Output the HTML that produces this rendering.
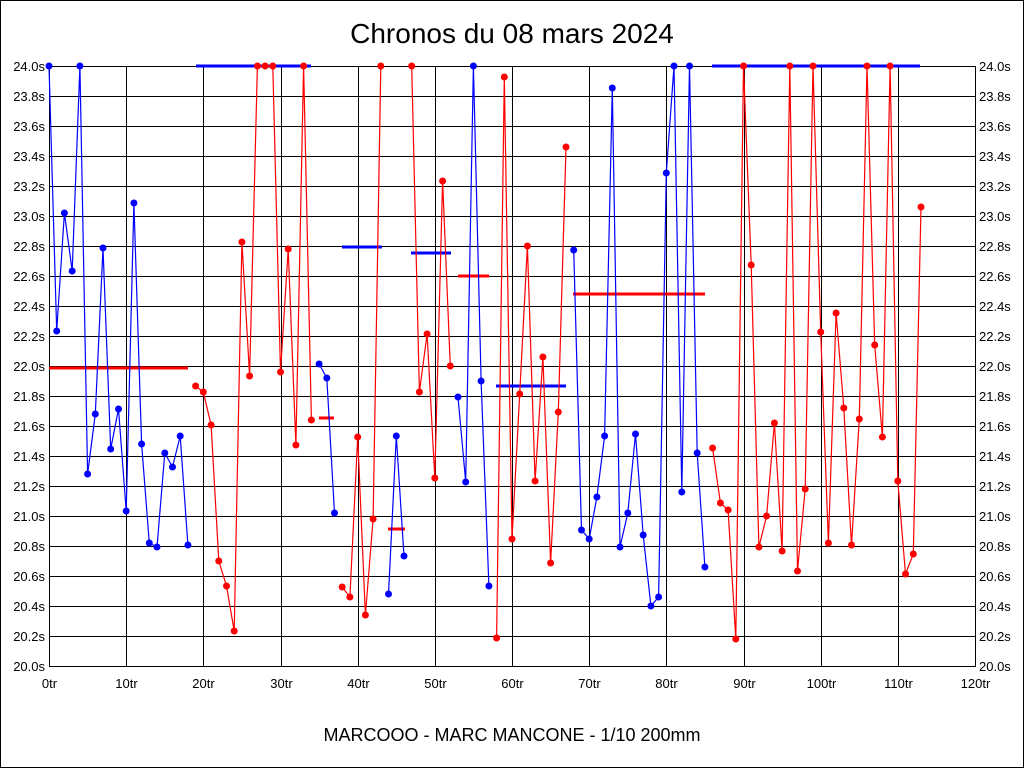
<!DOCTYPE html>
<html><head><meta charset="utf-8"><style>
html,body{margin:0;padding:0;background:#fff}
svg{display:block}
text{font-family:"Liberation Sans",sans-serif}
</style></head><body>
<svg id="s" width="1024" height="768" xmlns="http://www.w3.org/2000/svg">
<rect x="0.5" y="0.5" width="1023" height="767" fill="#fff" stroke="#000" shape-rendering="crispEdges"/>
<text x="512" y="43" font-size="28" text-anchor="middle">Chronos du 08 mars 2024</text>
<text x="512" y="741" font-size="18" text-anchor="middle">MARCOOO - MARC MANCONE - 1/10 200mm</text>
<g id="g"></g>
</svg>
<script>
var g=document.getElementById('g'),h='';
function X(i){return 49+i*926/120}
for(var k=0;k<=20;k++){var y=66+k*30,v=(24-k*0.2).toFixed(1)+'s';
h+='<line x1="49" x2="975" y1="'+(y+0.5)+'" y2="'+(y+0.5)+'" stroke="#000" shape-rendering="crispEdges"/>';
h+='<text x="45" y="'+(y+5)+'" font-size="13" text-anchor="end">'+v+'</text>';
h+='<text x="979" y="'+(y+5)+'" font-size="13">'+v+'</text>';}
for(var k=0;k<=12;k++){var x=Math.round(X(k*10))+0.5;
h+='<line x1="'+x+'" x2="'+x+'" y1="66" y2="667" stroke="#000" shape-rendering="crispEdges"/>';
h+='<text x="'+x+'" y="688" font-size="13" text-anchor="middle">'+(k*10)+'tr</text>';}
function seg(s,ys,c){var p=[];for(var j=0;j<ys.length;j++)p.push(X(s+j).toFixed(1)+','+ys[j]);
h+='<polyline points="'+p.join(' ')+'" fill="none" stroke="'+c+'" stroke-width="1.2"/>';
for(var j=0;j<ys.length;j++)h+='<circle cx="'+X(s+j).toFixed(1)+'" cy="'+ys[j]+'" r="3.5" fill="'+c+'"/>';}
function avg(x1,x2,y,c){h+='<line x1="'+x1+'" x2="'+x2+'" y1="'+y+'" y2="'+y+'" stroke="'+c+'" stroke-width="3"/>';}
var B='#0000ff',R='#ff0000';
avg(49,188,368,R);avg(196,311,66,B);avg(319,334,418,R);avg(342,382,247,B);avg(388,405,529,R);
avg(411,451,253,B);avg(458,489,276,R);avg(496,566,386,B);avg(573,705,294,R);avg(712,920,66,B);
seg(0,[66,331,213,271,66,474,414,248,449,409,511,203,444,543,547,453,467,436,545],B);
seg(19,[386,392,425,561,586,631,242,376,66,66,66,372,249,445,66,420],R);
seg(35,[364,378,513],B);
seg(38,[587,597,437,615,519,66],R);
seg(44,[594,436,556],B);
seg(47,[66,392,334,478,181,366],R);
seg(53,[397,482,66,381,586],B);
seg(58,[638,77,539,394,246,481,357,563,412,147],R);
seg(68,[250,530,539,497,436,88,547,513,434,535,606,597,173,66,492,66,453,567],B);
seg(86,[448,503,510,639,66,265,547,516,423,551,66,571,489,66,332,543,313,408,545,419,66,345,437,66,481,574,554,207],R);
g.innerHTML=h;
</script>
</body></html>
